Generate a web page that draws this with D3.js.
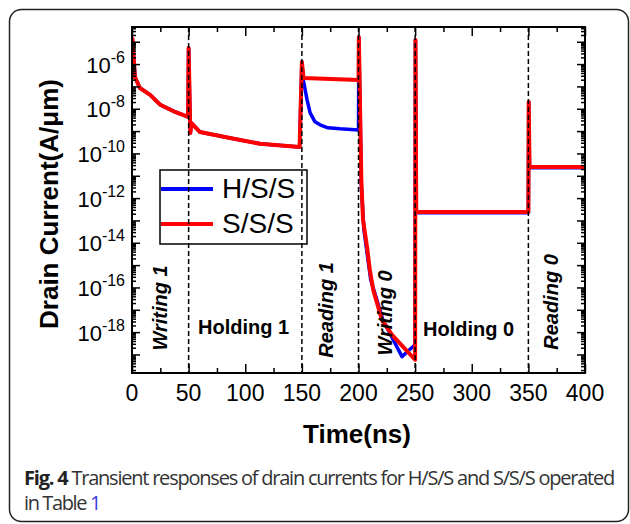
<!DOCTYPE html>
<html><head><meta charset="utf-8">
<script src="https://cdn.jsdelivr.net/npm/d3@7"></script>
<style>html,body{margin:0;padding:0;background:#fff;}svg{display:block;}</style>
</head><body>
<svg id="chart" width="630" height="524"></svg>
<script>
// ---- data ----
const sssTime  = [0, 0.5, 2.6, 7, 16, 25, 38, 49.5, 50, 51.5, 52.5, 60, 86.5, 113, 148, 150, 151.5, 200, 200.3, 202.5, 204, 207.5, 210, 213, 220.7, 229.6, 250, 250.3, 251, 350, 350.3, 351, 400];
const sssValue = [1.5e-5, 1.2e-5, 2.6e-7, 8.5e-8, 4.2e-8, 1.5e-8, 7.2e-9, 4.3e-9, 5.2e-6, 8.3e-10, 2.3e-9, 9.1e-10, 4.9e-10, 2.7e-10, 1.95e-10, 1.23e-6, 2.4e-7, 1.95e-7, 1.6e-5, 6.5e-12, 1.05e-13, 6.6e-15, 6.2e-16, 7.8e-17, 3.5e-18, 7.6e-19, 5.8e-20, 1.2e-5, 2.4e-13, 2.4e-13, 2.0e-8, 2.5e-11, 2.5e-11];
const hssTime  = [0, 0.5, 2.6, 7, 16, 25, 38, 49.5, 50, 51.5, 52.5, 60, 86.5, 113, 148, 150, 151.2, 154.6, 157.3, 161.6, 166, 173, 183.7, 200, 200.3, 202.5, 204.8, 210.8, 221.6, 238.4, 247, 250, 250.3, 251, 350, 350.3, 351, 400];
const hssValue = [1.5e-5, 1.2e-5, 2.6e-7, 8.5e-8, 4.2e-8, 1.5e-8, 7.2e-9, 4.3e-9, 5.2e-6, 8.3e-10, 2.3e-9, 9.1e-10, 4.9e-10, 2.7e-10, 1.95e-10, 1.23e-6, 1.95e-7, 2.5e-8, 6.5e-9, 2.6e-9, 1.9e-9, 1.4e-9, 1.26e-9, 1.12e-9, 1.6e-5, 3.5e-12, 3.8e-14, 2.2e-16, 3.5e-18, 8e-20, 2e-19, 2.7e-19, 1.2e-5, 2.2e-13, 2.2e-13, 2.0e-8, 2.3e-11, 2.3e-11];
const seriesNames = ["H/S/S", "S/S/S"];
const xTicks = [0, 50, 100, 150, 200, 250, 300, 350, 400];
const yTickExponents = [-6, -8, -10, -12, -14, -16, -18];
const phaseBoundaries = [50, 150, 200, 250, 350];
const phaseLabels = ["Writing 1", "Holding 1", "Reading 1", "Writing 0", "Holding 0", "Reading 0"];
const captionBold = "Fig. 4";
const captionText = " Transient responses of drain currents for H/S/S and S/S/S operated";
const captionLine2 = "in Table ";
const captionLink = "1";

// ---- layout ----
const svg = d3.select("#chart");
const L = 132, R = 585, T = 27, B = 373;
const x = d3.scaleLinear().domain([0, 400]).range([L, R]);
const y = d3.scaleLog().domain([Math.pow(10, -19.83), Math.pow(10, -4.34)]).range([B, T]);
const FONT = "'Liberation Sans', Arial, Helvetica, sans-serif";

svg.append("rect").attr("width", 630).attr("height", 524).attr("fill", "#fff");
svg.append("rect").attr("x", 9.5).attr("y", 9.5).attr("width", 619).attr("height", 512)
  .attr("rx", 12).attr("fill", "none").attr("stroke", "#222").attr("stroke-width", 1.5);

svg.append("defs").append("clipPath").attr("id", "clip")
  .append("rect").attr("x", L).attr("y", T).attr("width", R - L).attr("height", B - T);

// curves
const line = d3.line().x(d => x(d.t)).y(d => y(d.v));
const hss = hssTime.map((t, i) => ({t, v: hssValue[i]}));
const sss = sssTime.map((t, i) => ({t, v: sssValue[i]}));
const g = svg.append("g").attr("clip-path", "url(#clip)");
g.append("path").datum(hss).attr("d", line).attr("fill", "none")
  .attr("stroke", "#0000ff").attr("stroke-width", 3.5).attr("stroke-linejoin", "round");
g.append("path").datum(sss).attr("d", line).attr("fill", "none")
  .attr("stroke", "#ff0000").attr("stroke-width", 4).attr("stroke-linejoin", "round");

// legend
const lg = svg.append("g");
lg.append("rect").attr("x", 160).attr("y", 170).attr("width", 147).attr("height", 74)
  .attr("fill", "#fff").attr("stroke", "#000").attr("stroke-width", 1.5);
const legColors = ["#0000ff", "#ff0000"];
seriesNames.forEach((n, i) => {
  const yy = 189 + i * 35;
  lg.append("line").attr("x1", 161).attr("x2", 213).attr("y1", yy).attr("y2", yy)
    .attr("stroke", legColors[i]).attr("stroke-width", 4);
  lg.append("text").attr("x", 222).attr("y", yy + 9).attr("font-family", FONT)
    .attr("font-size", 28).attr("fill", "#000").text(n);
});

// dashed phase lines
phaseBoundaries.forEach(b => {
  svg.append("line").attr("x1", x(b)).attr("x2", x(b)).attr("y1", T).attr("y2", B)
    .attr("stroke", "#000").attr("stroke-width", 1.5).attr("stroke-dasharray", "5,3");
});

// phase labels
const rotLabels = [
  {text: phaseLabels[0], bx: 167, cy: 308},
  {text: phaseLabels[2], bx: 333, cy: 310},
  {text: phaseLabels[3], bx: 392, cy: 313},
  {text: phaseLabels[5], bx: 558, cy: 302}
];
rotLabels.forEach(d => {
  svg.append("text").attr("transform", `translate(${d.bx},${d.cy}) rotate(-90)`)
    .attr("text-anchor", "middle").attr("font-family", FONT).attr("font-weight", "bold")
    .attr("font-style", "italic").attr("font-size", 20).text(d.text);
});
[{text: phaseLabels[1], x: 198, y: 334}, {text: phaseLabels[4], x: 423, y: 336}].forEach(d => {
  svg.append("text").attr("x", d.x).attr("y", d.y).attr("font-family", FONT)
    .attr("font-weight", "bold").attr("font-size", 20).text(d.text);
});

// axes frame
svg.append("rect").attr("x", L).attr("y", T).attr("width", R - L).attr("height", B - T)
  .attr("fill", "none").attr("stroke", "#000").attr("stroke-width", 2);

const xMinor = d3.range(25, 400, 50);
function styleAxis(sel) {
  sel.select(".domain").remove();
  sel.selectAll("line").attr("stroke", "#000").attr("stroke-width", 1.5);
}
svg.append("g").attr("transform", `translate(0,${B})`)
  .call(d3.axisBottom(x).tickValues(xTicks).tickSize(-9).tickFormat(""))
  .call(styleAxis);
svg.append("g").attr("transform", `translate(0,${B})`)
  .call(d3.axisBottom(x).tickValues(xMinor).tickSize(-5).tickFormat(""))
  .call(styleAxis);
svg.append("g").attr("transform", `translate(0,${T})`)
  .call(d3.axisTop(x).tickValues(xTicks).tickSize(-9).tickFormat(""))
  .call(styleAxis);
svg.append("g").attr("transform", `translate(0,${T})`)
  .call(d3.axisTop(x).tickValues(xMinor).tickSize(-5).tickFormat(""))
  .call(styleAxis);

xTicks.forEach(v => {
  svg.append("text").attr("x", x(v)).attr("y", 401).attr("text-anchor", "middle")
    .attr("font-family", FONT).attr("font-size", 23).text(v);
});

// y ticks
const yMajor = [], yMinor = [];
for (let e = -20; e <= -4; e++) {
  const v = Math.pow(10, e);
  if (v >= y.domain()[0] && v <= y.domain()[1]) yMajor.push(v);
  for (let k = 2; k <= 9; k++) {
    const m = k * v;
    if (m >= y.domain()[0] && m <= y.domain()[1]) yMinor.push(m);
  }
}
[[d3.axisLeft, L, -8, -4], [d3.axisRight, R, -8, -4]].forEach(([ax, px, maj, mnr]) => {
  svg.append("g").attr("transform", `translate(${px},0)`)
    .call(ax(y).tickValues(yMajor).tickSize(maj).tickFormat("")).call(styleAxis);
  svg.append("g").attr("transform", `translate(${px},0)`)
    .call(ax(y).tickValues(yMinor).tickSize(mnr).tickFormat("")).call(styleAxis);
});

yTickExponents.forEach(e => {
  const t = svg.append("text").attr("x", 125).attr("y", y(Math.pow(10, e)) + 8.5)
    .attr("text-anchor", "end").attr("font-family", FONT).attr("font-size", 22);
  t.append("tspan").text("10");
  t.append("tspan").attr("dy", -10).attr("font-size", 16).text(String(e));
});

// axis titles
svg.append("text").attr("x", 357).attr("y", 443).attr("text-anchor", "middle")
  .attr("font-family", FONT).attr("font-weight", "bold").attr("font-size", 26).text("Time(ns)");
svg.append("text").attr("transform", "translate(58,204) rotate(-90)").attr("text-anchor", "middle")
  .attr("font-family", FONT).attr("font-weight", "bold").attr("font-size", 26)
  .text("Drain Current(A/μm)");

// caption: single text per line, condensed with letter-spacing to the reference width
const CF = "'Open Sans', 'Noto Sans', sans-serif";
function captionLine(yPos, targetW, parts) {
  const t = svg.append("text").attr("x", 24).attr("y", yPos).attr("font-family", CF)
    .attr("font-size", 20).attr("fill", "#333");
  parts.forEach(p => {
    const s = t.append("tspan").text(p.text);
    if (p.bold) s.attr("font-weight", "bold").attr("fill", "#222");
    if (p.color) s.attr("fill", p.color);
  });
  const w = t.node().getComputedTextLength();
  const n = d3.sum(parts, p => p.text.length);
  t.attr("letter-spacing", ((targetW - w) / n).toFixed(3));
}
captionLine(485, 590, [{text: captionBold, bold: true}, {text: captionText}]);
captionLine(510, 76, [{text: captionLine2}, {text: captionLink, color: "#3a3ae0"}]);
</script>
</body></html>
